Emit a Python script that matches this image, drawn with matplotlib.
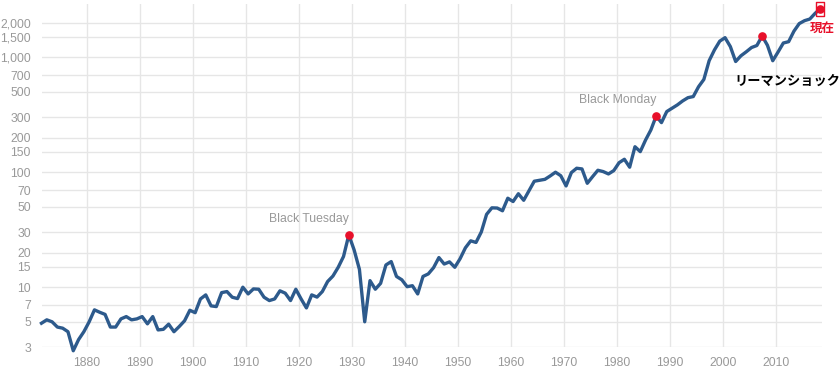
import numpy as np
import matplotlib
matplotlib.use('Agg')
import matplotlib.pyplot as plt
from matplotlib.ticker import FixedLocator, FixedFormatter, NullLocator

plt.rcParams['font.family'] = ['Liberation Sans', 'Noto Sans CJK JP', 'DejaVu Sans']

# S&P 500 (annual), 1871-2018
years = np.arange(1871, 2019)
values = [
    4.86, 5.2, 5.0, 4.5, 4.4, 4.1, 2.8, 3.5, 4.1,                    # 1871-1879
    5.0, 6.35, 6.05, 5.8, 4.5, 4.5, 5.3, 5.55, 5.2, 5.3,             # 1880s
    5.55, 4.8, 5.55, 4.25, 4.3, 4.77, 4.1, 4.55, 5.1, 6.3,           # 1890s
    6.0, 7.9, 8.57, 6.88, 6.78, 8.97, 9.16, 8.18, 7.96, 10.0,        # 1900s
    8.74, 9.66, 9.6, 8.18, 7.65, 7.9, 9.3, 8.87, 7.65, 9.6,          # 1910s
    7.9, 6.6, 8.57, 8.2, 9.16, 11.2, 12.5, 14.9, 18.5, 28.5,         # 1920s
    21.1, 14.3, 5.0, 11.4, 9.6, 10.8, 15.6, 16.7, 12.4, 11.6,        # 1930s
    10.1, 10.3, 8.74, 12.4, 13.05, 14.8, 18.1, 15.9, 16.6, 14.9,     # 1940s
    17.7, 22.0, 25.3, 24.5, 30.2, 43.0, 49.0, 48.8, 46.2, 59.4,      # 1950s
    55.6, 65.0, 57.0, 69.0, 83.5, 85.0, 86.7, 92.8, 100.0, 93.2,     # 1960s
    76.0, 99.3, 108.3, 106.8, 80.1, 91.5, 104.0, 101.3, 96.6, 103.3, # 1970s
    121.0, 129.6, 110.6, 166.6, 151.0, 190.6, 233.0, 308.0, 270.0, 337.0,  # 1980s
    360.0, 385.0, 417.0, 445.0, 455.0, 554.0, 641.0, 933.0, 1158.0, 1380.0,  # 1990s
    1480.0, 1238.0, 918.0, 1030.0, 1115.0, 1215.0, 1265.0, 1530.0, 1270.0, 933.0,  # 2000s
    1110.0, 1330.0, 1366.0, 1686.0, 1962.0, 2080.0, 2150.0, 2410.0, 2650.0,  # 2010s
]

y_ticks = [3, 5, 7, 10, 15, 20, 30, 50, 70, 100, 150, 200, 300, 500, 700, 1000, 1500, 2000]
y_labels = ['3', '5', '7', '10', '15', '20', '30', '50', '70', '100', '150', '200',
            '300', '500', '700', '1,000', '1,500', '2,000']
x_ticks = list(range(1880, 2011, 10))

events = {1929: 'Black Tuesday', 1987: 'Black Monday', 2007: 'リーマンショック', 2018: '現在'}

line_color = '#2d5a8c'
red = '#e8102a'
grid_color = '#e6e6e6'
label_color = '#999999'

fig = plt.figure(figsize=(8.4, 3.78), dpi=100)
ax = fig.add_axes([0.05, 0.0812, 0.9286, 0.908])

xs = years + 0.4  # plot each year around mid-year
ax.plot(xs, values, color=line_color, lw=2.4, solid_joinstyle='round', clip_on=False, zorder=3)

ax.set_yscale('log')
ax.set_ylim(3, 2900)
ax.set_xlim(1871.5, 2018.7)

ax.yaxis.set_major_locator(FixedLocator(y_ticks))
ax.yaxis.set_major_formatter(FixedFormatter(y_labels))
ax.yaxis.set_minor_locator(NullLocator())
ax.set_xticks(x_ticks)

ax.grid(True, color=grid_color, lw=1)
ax.set_axisbelow(True)
for s in ax.spines.values():
    s.set_visible(False)
ax.tick_params(length=0, colors=label_color, labelsize=8.8)
ax.tick_params(axis='y', pad=8)
ax.tick_params(axis='x', pad=7)

# event markers
for yr, name in events.items():
    i = list(years).index(yr)
    ax.plot(xs[i], values[i], 'o', color=red, ms=5.2, zorder=4, clip_on=False)

i = list(years).index(1929)
ax.annotate(events[1929], (xs[i], values[i]), xytext=(0, 7), textcoords='offset points',
            ha='right', va='bottom', color='#999999', fontsize=8.8)
i = list(years).index(1987)
ax.annotate(events[1987], (xs[i], values[i]), xytext=(0, 7), textcoords='offset points',
            ha='right', va='bottom', color='#999999', fontsize=8.8)
i = list(years).index(2007)
ax.annotate(events[2007], (xs[i], values[i]), xytext=(-20, -32), textcoords='offset points',
            ha='left', va='center', color='black', fontsize=9.5, fontweight='bold',
            family=['Noto Sans CJK JP', 'DejaVu Sans'], annotation_clip=False)
i = list(years).index(2018)
ax.annotate(events[2018], (xs[i], values[i]), xytext=(1, -14), textcoords='offset points',
            ha='center', va='center', color=red, fontsize=9, fontweight='bold',
            family=['Noto Sans CJK JP', 'DejaVu Sans'], annotation_clip=False)
# highlight box around the latest value
box = [(-1, -2), (1, -2), (1, 2), (-1, 2), (-1, -2)]
ax.plot(xs[i], values[i], marker=box, ms=10.5, mfc='none', mec=red, mew=1.0,
        clip_on=False, zorder=5)

fig.savefig('out.png', dpi=100)
